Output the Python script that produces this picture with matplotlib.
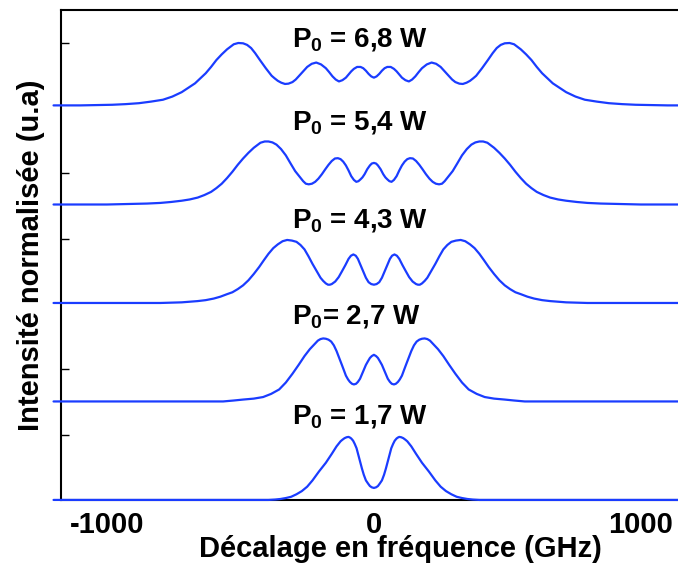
import matplotlib
matplotlib.use("Agg")
import matplotlib.pyplot as plt
import numpy as np

plt.rcParams['font.family'] = ['Liberation Sans', 'DejaVu Sans']
plt.rcParams['font.weight'] = 'bold'
plt.rcParams['mathtext.fontset'] = 'custom'
plt.rcParams['mathtext.rm'] = 'Liberation Sans:bold'
plt.rcParams['mathtext.it'] = 'Liberation Sans:bold'
plt.rcParams['mathtext.bf'] = 'Liberation Sans:bold'

# half-profiles: offset from centre (GHz) -> normalised intensity
f_17 = [0, 8, 15, 22, 30, 38, 45, 55, 65, 72, 78, 85, 90, 95, 102, 110, 118, 125, 140, 158, 180, 206,
        230, 250, 270, 290, 310, 330, 350, 370, 395, 1200]
h_17 = [0.19, 0.20, 0.22, 0.26, 0.31, 0.40, 0.50, 0.66, 0.82, 0.89, 0.94, 0.975, 0.99, 1.00, 0.995, 0.98,
        0.955, 0.93, 0.85, 0.73, 0.59, 0.45, 0.31, 0.21, 0.14, 0.09, 0.05, 0.03, 0.015, 0.006, 0.0, 0.0]

f_27 = [0, 8, 15, 22, 30, 38, 45, 52, 60, 67, 75, 82, 90, 97, 105, 112, 120, 130, 140, 150, 160, 170,
        180, 190, 200, 210, 220, 240, 260, 282, 305, 330, 355, 385, 415, 450, 490, 525, 565, 1200]
h_27 = [0.74, 0.72, 0.69, 0.64, 0.58, 0.50, 0.43, 0.36, 0.31, 0.28, 0.27, 0.28, 0.31, 0.35, 0.41, 0.49,
        0.58, 0.69, 0.80, 0.89, 0.95, 0.98, 0.995, 1.00, 0.99, 0.965, 0.92, 0.83, 0.72, 0.58, 0.44, 0.30,
        0.19, 0.12, 0.07, 0.045, 0.03, 0.015, 0.0, 0.0]

f_43 = [0, 10, 20, 30, 40, 50, 60, 68, 77, 86, 95, 107, 120, 132, 145, 158, 165, 172, 180, 190, 200,
        215, 230, 245, 260, 275, 290, 307, 325, 342, 360, 377, 395, 412, 430, 450, 470, 490, 510, 530,
        550, 575, 600, 630, 660, 690, 720, 760, 800, 1200]
h_43 = [0.29, 0.30, 0.33, 0.40, 0.50, 0.60, 0.70, 0.75, 0.77, 0.75, 0.70, 0.60, 0.50, 0.41, 0.34, 0.30,
        0.29, 0.29, 0.31, 0.35, 0.40, 0.51, 0.62, 0.74, 0.85, 0.92, 0.97, 0.99, 1.00, 0.98, 0.93, 0.87,
        0.78, 0.68, 0.57, 0.46, 0.36, 0.28, 0.22, 0.17, 0.14, 0.10, 0.07, 0.045, 0.03, 0.02, 0.01, 0.005,
        0.0, 0.0]

f_54 = [0, 8, 15, 25, 35, 43, 50, 58, 66, 75, 85, 95, 105, 115, 125, 135, 146, 158, 170, 182, 195, 208,
        220, 232, 244, 255, 265, 280, 295, 312, 330, 348, 365, 380, 395, 409, 425, 450, 470, 490, 510,
        530, 550, 570, 590, 610, 635, 660, 690, 720, 760, 800, 850, 900, 1000, 1200]
h_54 = [0.66, 0.65, 0.62, 0.56, 0.48, 0.43, 0.40, 0.37, 0.36, 0.39, 0.45, 0.54, 0.62, 0.68, 0.72, 0.735,
        0.73, 0.69, 0.63, 0.56, 0.48, 0.41, 0.36, 0.33, 0.32, 0.33, 0.37, 0.45, 0.53, 0.65, 0.78, 0.88,
        0.95, 0.985, 1.00, 1.00, 0.98, 0.90, 0.82, 0.73, 0.63, 0.52, 0.42, 0.33, 0.26, 0.20, 0.15, 0.11,
        0.08, 0.06, 0.04, 0.025, 0.015, 0.01, 0.0, 0.0]

f_68 = [0, 10, 20, 30, 40, 50, 63, 75, 85, 95, 105, 118, 131, 143, 155, 168, 180, 198, 216, 233, 250,
        265, 280, 293, 305, 320, 333, 347, 360, 372, 383, 405, 427, 445, 460, 475, 490, 508, 525, 550,
        570, 590, 610, 630, 650, 670, 695, 720, 755, 790, 835, 880, 930, 980, 1040, 1100, 1200]
h_68 = [0.45, 0.47, 0.51, 0.56, 0.60, 0.62, 0.62, 0.59, 0.55, 0.50, 0.45, 0.41, 0.39, 0.42, 0.47, 0.54,
        0.60, 0.66, 0.69, 0.67, 0.62, 0.55, 0.48, 0.42, 0.38, 0.355, 0.35, 0.37, 0.40, 0.44, 0.48, 0.60,
        0.73, 0.84, 0.92, 0.97, 0.995, 1.00, 0.98, 0.90, 0.82, 0.73, 0.62, 0.52, 0.44, 0.36, 0.29, 0.22,
        0.15, 0.10, 0.07, 0.045, 0.03, 0.02, 0.015, 0.01, 0.01]

profiles = [(f_17, h_17), (f_27, h_27), (f_43, h_43), (f_54, h_54), (f_68, h_68)]
labels = ["$P_0$ = 1,7 W", "$P_0$= 2,7 W", "$P_0$ = 4,3 W", "$P_0$ = 5,4 W", "$P_0$ = 6,8 W"]
label_y = [0.78, 1.79, 2.77, 3.76, 4.60]
ytick_pos = [0.66, 1.33, 2.65, 3.32, 4.64]

AMP = 0.64     # peak height of each trace
BLUE = '#1a3cff'

fig = plt.figure(figsize=(6.78, 5.72), dpi=100)
ax = fig.add_axes([0.090, 0.126, 0.923, 0.8565])

for i, (f, h) in enumerate(profiles):
    f = np.asarray(f, dtype=float)
    h = np.asarray(h, dtype=float)
    x = np.concatenate([-f[::-1], f[1:]])   # mirror the half-profile
    y = np.concatenate([h[::-1], h[1:]])
    ax.plot(x, i + AMP * y, color=BLUE, lw=1.6, zorder=3, clip_on=False,
            solid_joinstyle='round', solid_capstyle='round')
    ax.text(-305, label_y[i], labels[i], fontsize=20, fontweight='bold', ha='left', va='baseline')

ax.set_xlim(-1172, 1172)
ax.set_ylim(0, 4.975)

ax.set_xticks([-1000, 0, 1000])
ax.set_xticklabels(["-1000", "0", "1000"], fontsize=21, fontweight='bold')
ax.tick_params(axis='x', length=0, pad=8)
ax.set_xticks([0], minor=True)
ax.tick_params(axis='x', which='minor', direction='in', length=6, width=1, top=True)

ax.set_yticks(ytick_pos)
ax.set_yticklabels([])
ax.tick_params(axis='y', direction='in', length=6, width=1)

for s in ['left', 'top', 'bottom']:
    ax.spines[s].set_linewidth(1.5)
ax.spines['right'].set_visible(False)

ax.set_xlabel("Décalage en fréquence (GHz)", fontsize=21, fontweight='bold')
ax.xaxis.set_label_coords(0.543, -0.072, transform=ax.transAxes)
ax.set_ylabel("Intensité normalisée (u.a)", fontsize=21, fontweight='bold', labelpad=8)

fig.savefig("out.png", dpi=100)
